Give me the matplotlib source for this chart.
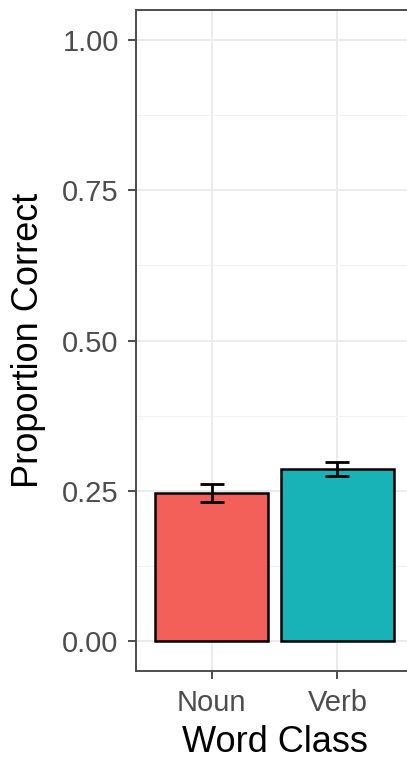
import matplotlib
matplotlib.use("Agg")
import matplotlib.pyplot as plt
from matplotlib.ticker import MultipleLocator

plt.rcParams['font.family'] = ['Liberation Sans', 'DejaVu Sans']

# data
word_class = ["Noun", "Verb"]
prop_correct = [0.247, 0.286]
se = [0.015, 0.012]
bar_colors = ["#F3605A", "#17B3B6"]
y_ticks = [0.00, 0.25, 0.50, 0.75, 1.00]

fig = plt.figure(figsize=(4.07, 7.61), dpi=100)
ax = fig.add_axes([136 / 407, 1 - 671 / 761, (413 - 136) / 407, (671 - 10) / 761])

x = list(range(1, len(word_class) + 1))
ax.bar(x, prop_correct, width=0.9, color=bar_colors, edgecolor="black", linewidth=1.8, zorder=3)
ax.errorbar(x, prop_correct, yerr=se, fmt="none", ecolor="black", elinewidth=2.0,
            capsize=8.5, capthick=2.0, zorder=4)

ax.set_xlim(0.4, 2.6)
ax.set_ylim(-0.05, 1.05)
ax.set_xticks(x)
ax.set_xticklabels(word_class)
ax.set_yticks(y_ticks)
ax.set_yticklabels([f"{v:.2f}" for v in y_ticks])
ax.yaxis.set_minor_locator(MultipleLocator(0.125))

ax.grid(True, which="major", color="#EBEBEB", linewidth=1.4, zorder=0)
ax.grid(True, which="minor", axis="y", color="#F2F2F2", linewidth=0.8, zorder=0)
ax.set_axisbelow(True)

for s in ax.spines.values():
    s.set_color("#4D4D4D")
    s.set_linewidth(1.4)

ax.tick_params(axis="both", which="major", length=6, width=1.4, color="#4D4D4D",
               labelsize=21, labelcolor="#4D4D4D")
ax.tick_params(axis="y", which="major", pad=6.5)
ax.tick_params(axis="x", which="major", pad=7)
ax.tick_params(axis="y", which="minor", length=0)

ax.set_xlabel("Word Class", fontsize=26)
ax.set_ylabel("Proportion Correct", fontsize=26)
ax.xaxis.label.set_va("center")
ax.yaxis.label.set_va("center")
ax.xaxis.set_label_coords(0.5, (671 - 743) / 661)
ax.yaxis.set_label_coords((29 - 136) / 277, 0.5)

fig.savefig("out.png", dpi=100)
